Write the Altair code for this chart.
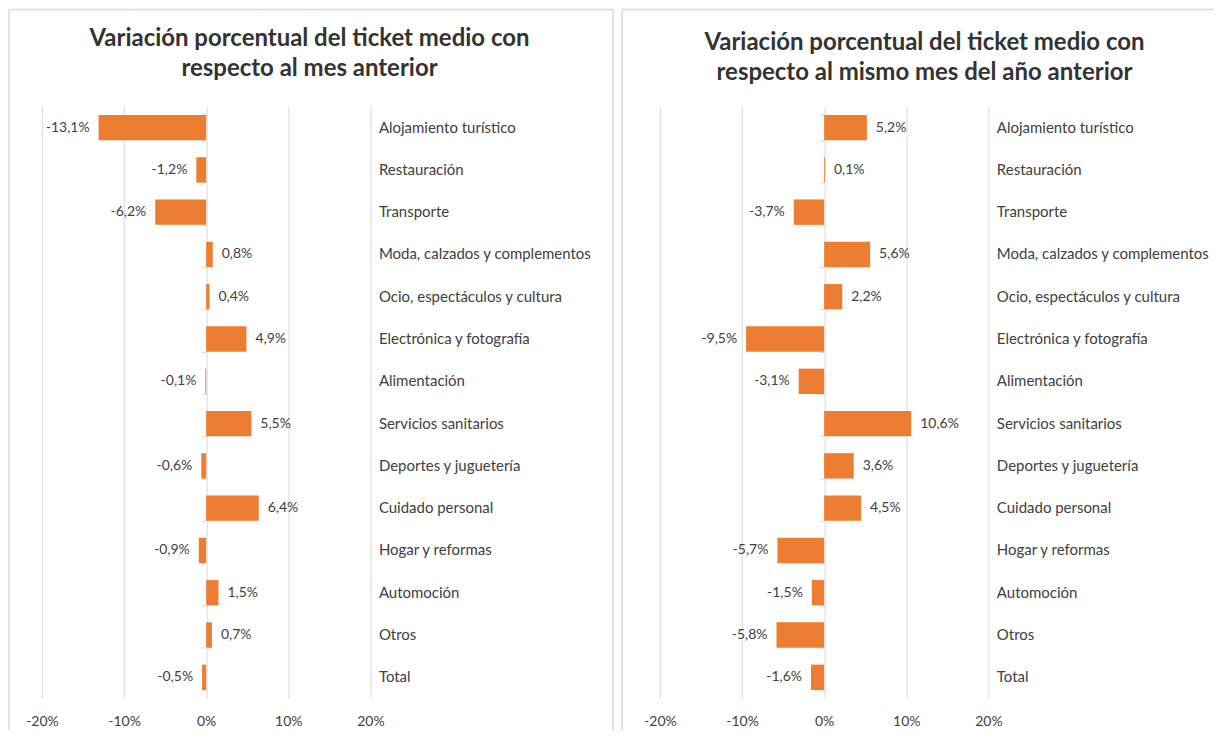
import altair as alt
import pandas as pd

categories = [
    "Alojamiento turístico", "Restauración", "Transporte",
    "Moda, calzados y complementos", "Ocio, espectáculos y cultura",
    "Electrónica y fotografía", "Alimentación", "Servicios sanitarios",
    "Deportes y juguetería", "Cuidado personal", "Hogar y reformas",
    "Automoción", "Otros", "Total",
]
vs_prev_month = [-13.1, -1.2, -6.2, 0.8, 0.4, 4.9, -0.1, 5.5, -0.6, 6.4, -0.9, 1.5, 0.7, -0.5]
vs_prev_year = [5.2, 0.1, -3.7, 5.6, 2.2, -9.5, -3.1, 10.6, 3.6, 4.5, -5.7, -1.5, -5.8, -1.6]
x_ticks = [-0.2, -0.1, 0.0, 0.1, 0.2]

title_left = ["Variación porcentual del ticket medio con", "respecto al mes anterior"]
title_right = ["Variación porcentual del ticket medio con", "respecto al mismo mes del año anterior"]

FONT = "Lato"
TXT = "#404040"
TITLE_C = "#333333"
GRID = "#d9d9d9"
ORANGE = "#ED7D31"
W, H = 329, 593


def make_df(vals):
    return pd.DataFrame({
        "cat": categories,
        "v": [v / 100 for v in vals],
        "lab": [f"{v:.1f}".replace(".", ",") + "%" for v in vals],
    })


def panel(vals, title, left_off, right_end, draw_right, title_x, title_y):
    df = make_df(vals)
    xaxis = alt.Axis(values=x_ticks, grid=True, gridColor=GRID, domain=False, ticks=False,
                     labelExpr="(datum.value<0?'-':'') + abs(round(datum.value*100)) + '%'",
                     labelFlush=False, labelBound=False,
                     labelPadding=16, labelFontSize=14, labelColor=TXT, labelFont=FONT, title=None)
    xs = alt.Scale(domain=[-0.2, 0.2], nice=False)
    ys = alt.Scale(domain=categories, paddingInner=0.4, paddingOuter=0.2)

    bars = alt.Chart(df).mark_bar(color=ORANGE).encode(
        x=alt.X("v:Q", scale=xs, axis=xaxis),
        y=alt.Y("cat:N", sort=categories, scale=ys,
                axis=alt.Axis(orient="left", offset=-W / 2, labels=False, domain=False,
                              ticks=True, tickSize=5, tickColor=GRID, tickBand="extent",
                              grid=False, title=None)),
    )
    pos = alt.Chart(df).transform_filter("datum.v >= 0").mark_text(
        align="left", dx=9, fontSize=14, font=FONT, color=TXT
    ).encode(
        x=alt.X("v:Q", scale=xs, axis=xaxis),
        y=alt.Y("cat:N", sort=categories, scale=ys,
                axis=alt.Axis(orient="right", labelPadding=8, domain=False, ticks=False,
                              grid=False, labelFontSize=15, labelColor=TXT, labelFont=FONT,
                              labelAlign="left", labelLimit=400, title=None)),
        text="lab:N",
    )
    neg = alt.Chart(df).transform_filter("datum.v < 0").mark_text(
        align="right", dx=-9, fontSize=14, font=FONT, color=TXT
    ).encode(
        x=alt.X("v:Q", scale=xs, axis=xaxis),
        y=alt.Y("cat:N", sort=categories, scale=ys, axis=None),
        text="lab:N",
    )
    one = pd.DataFrame({"a": [0]})
    top_y = -97
    bot_y = 625
    border = [
        alt.Chart(one).mark_rule(color=GRID, strokeWidth=1.5).encode(
            x=alt.value(left_off), x2=alt.value(right_end), y=alt.value(top_y)),
        alt.Chart(one).mark_rule(color=GRID, strokeWidth=1.5).encode(
            x=alt.value(left_off), y=alt.value(top_y), y2=alt.value(bot_y)),
    ]
    if draw_right:
        border.append(alt.Chart(one).mark_rule(color=GRID, strokeWidth=1.5).encode(
            x=alt.value(right_end), y=alt.value(top_y), y2=alt.value(bot_y)))
    ttl = alt.Chart(one).mark_text(
        font=FONT, fontSize=24, fontWeight="bold", color=TITLE_C, align="center",
        baseline="middle", lineHeight=31
    ).encode(x=alt.value(title_x), y=alt.value(title_y), text=alt.value(title))

    return alt.layer(*border, ttl, bars, pos, neg).resolve_axis(y="independent").properties(
        width=W, height=H)


left = panel(vs_prev_month, title_left, -33, 572, True, 268, -68)
right = panel(vs_prev_year, title_right, -38, 555, False, 265, -64)

chart = alt.hconcat(left, right, spacing=7).properties(padding=0).configure_view(stroke=None)

chart.save("out.html", embed_options={"renderer": "svg", "actions": False})
